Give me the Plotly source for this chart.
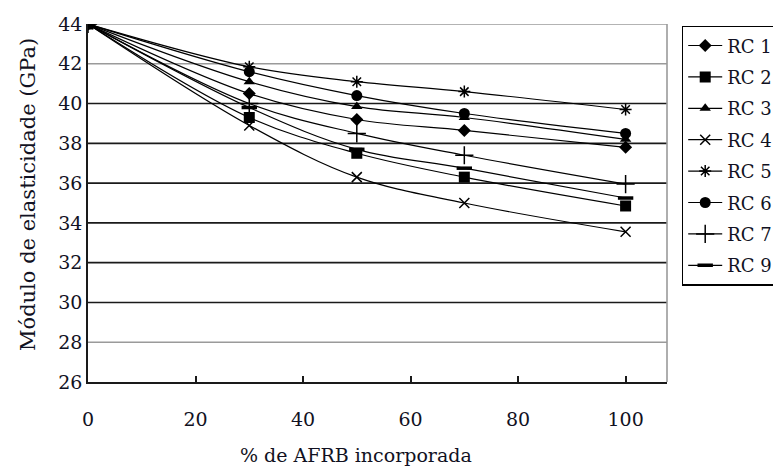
import plotly.graph_objects as go

x_pct = [0, 30, 50, 70, 100]
series_names = ["RC 1", "RC 2", "RC 3", "RC 4", "RC 5", "RC 6", "RC 7", "RC 9"]
rc1 = [44, 40.5, 39.2, 38.65, 37.8]
rc2 = [44, 39.3, 37.5, 36.3, 34.85]
rc3 = [44, 41.1, 39.85, 39.3, 38.2]
rc4 = [44, 38.9, 36.3, 35.0, 33.55]
rc5 = [44, 41.85, 41.1, 40.6, 39.7]
rc6 = [44, 41.6, 40.4, 39.5, 38.5]
rc7 = [44, 40.0, 38.5, 37.4, 35.95]
rc9 = [44, 39.8, 37.7, 36.75, 35.25]
values = [rc1, rc2, rc3, rc4, rc5, rc6, rc7, rc9]

x_ticks = [0, 20, 40, 60, 80, 100]
y_ticks = [26, 28, 30, 32, 34, 36, 38, 40, 42, 44]
grid_black = [30, 32, 34, 36, 38, 40]
grid_gray = [28, 42, 44]

symbols = ["diamond", "square", "triangle-up", "x-thin", "asterisk", "circle", "cross-thin", "line-ew"]
sizes = [10, 11, 10, 10, 10, 11, 13, 11]
lws = [0, 0, 0, 1.5, 1.5, 0, 1.5, 3.5]

FONT = "DejaVu Serif"

fig = go.Figure()
for name, ys, sym, sz, lw in zip(series_names, values, symbols, sizes, lws):
    fig.add_trace(go.Scatter(
        x=x_pct, y=ys, name=name, mode="lines+markers",
        legendgroup=name,
        line=dict(color="black", width=1.2, shape="spline"),
        marker=dict(symbol=sym, size=sz, color="black",
                    line=dict(color="black", width=lw)),
    ))

shapes = []
for g in grid_black:
    shapes.append(dict(type="line", xref="paper", x0=0, x1=1, yref="y", y0=g, y1=g,
                       line=dict(color="#1a1a1a", width=1.6), layer="below"))
for g in grid_gray:
    shapes.append(dict(type="line", xref="paper", x0=0, x1=1, yref="y", y0=g, y1=g,
                       line=dict(color="#9a9a9a", width=1.6), layer="below"))
shapes.append(dict(type="line", xref="paper", x0=1, x1=1, yref="paper", y0=0, y1=1,
                   line=dict(color="#9a9a9a", width=1.6), layer="below"))

fig.update_layout(
    width=773, height=475,
    margin=dict(l=88, r=106, t=24, b=93, autoexpand=False),
    paper_bgcolor="white", plot_bgcolor="white",
    font=dict(family=FONT, size=19, color="#111122"),
    showlegend=True,
    legend=dict(x=1.0254, xref="paper", xanchor="left", y=0.995, yanchor="top",
                bordercolor="black", borderwidth=1.5, bgcolor="white",
                font=dict(family=FONT, size=18, color="#111122"),
                tracegroupgap=5, itemwidth=34),
    shapes=shapes,
    xaxis=dict(range=[0, 107.7], tickvals=x_ticks, ticktext=[str(v) for v in x_ticks],
               showgrid=False, zeroline=False, showline=True, linecolor="#1a1a1a",
               linewidth=1.6, ticks="inside", ticklen=6, tickwidth=1.6, tickcolor="#1a1a1a",
               ticklabelstandoff=19),
    yaxis=dict(range=[26, 44], tickvals=y_ticks, ticktext=[str(v) for v in y_ticks],
               showgrid=False, zeroline=False, showline=True, linecolor="#1a1a1a",
               linewidth=1.6, ticks=""),
    annotations=[
        dict(text="% de AFRB incorporada", xref="paper", yref="paper",
             x=(356 - 88) / (667 - 88), y=-(455 - 382) / 358, xanchor="center", yanchor="middle",
             showarrow=False, font=dict(family=FONT, size=19, color="#111122")),
        dict(text="Módulo de elasticidade (GPa)", xref="paper", yref="paper",
             x=-(88 - 28) / (667 - 88), y=(382 - 195) / 358, xanchor="center", yanchor="middle",
             textangle=-90, showarrow=False, font=dict(family=FONT, size=21, color="#111122")),
    ],
)

fig.write_html("out.html")
